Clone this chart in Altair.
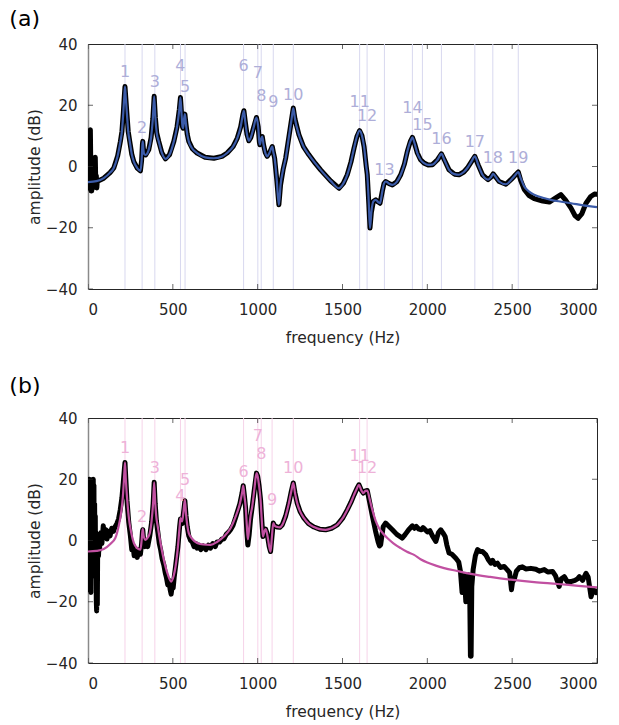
import altair as alt
import pandas as pd

FONT = "DejaVu Sans"
TXT = "#262626"

# ---------------- panel (a) ----------------
fit_a_f = [0, 50, 93, 130, 152, 175, 191, 200, 208, 214, 218, 222, 229, 237, 246, 258, 270, 290, 309,
           316, 321, 323, 326, 332, 340, 358, 372, 382, 390, 397, 405, 417, 435, 457, 480, 506, 525,
           538, 545, 551, 557, 561, 566, 571, 577, 585, 594, 615, 643, 690, 742, 790, 820, 855, 880,
           900, 913, 919, 926, 937, 948, 960, 975, 993, 1003, 1010, 1013, 1020, 1027, 1035, 1045, 1056,
           1070, 1086, 1093, 1100, 1112, 1125, 1135, 1150, 1165, 1185, 1200, 1210, 1220, 1243, 1270,
           1302, 1340, 1371, 1430, 1479, 1505, 1528, 1550, 1568, 1585, 1601, 1615, 1627, 1640, 1646,
           1655, 1662, 1670, 1682, 1696, 1710, 1721, 1735, 1745, 1755, 1775, 1794, 1820, 1843, 1865,
           1882, 1900, 1912, 1925, 1941, 1960, 1981, 2005, 2030, 2060, 2083, 2100, 2128, 2160, 2187,
           2215, 2236, 2260, 2280, 2300, 2325, 2358, 2375, 2388, 2405, 2423, 2463, 2502, 2520, 2536,
           2550, 2571, 2600, 2630, 2680, 2728, 2790, 2847, 2920, 3000]
fit_a_db = [-5.1, -4.8, -3.8, -2.0, -0.5, 3.5, 8.2, 11.5, 17.5, 23.0, 26.1, 23.0, 17.5, 11.5, 8.2, 4.0, 1.6, -0.5, -1.4,
            2.0, 7.5, 8.2, 6.0, 4.0, 3.8, 5.5, 9.5, 15.5, 22.9, 16.0, 11.0, 8.2, 4.5, 2.5, 3.8, 8.2, 13.0,
            18.5, 22.5, 17.5, 13.0, 12.5, 15.5, 17.1, 14.0, 10.5, 8.2, 5.8, 4.4, 3.0, 2.7, 3.3, 4.4, 6.5, 9.3,
            13.0, 17.0, 18.2, 15.0, 10.5, 8.4, 9.5, 12.5, 16.0, 13.0, 8.0, 7.1, 9.0, 9.8, 7.0, 4.5, 3.3,
            4.5, 6.5, 4.5, 2.7, -4.0, -12.5, -6.0, -1.0, 2.7, 10.0, 15.5, 19.1, 15.5, 10.4, 6.5,
            3.8, 1.0, -1.1, -4.7, -7.1, -5.5, -2.7, 1.5, 6.0, 9.8, 11.7, 10.0, 6.5, 0.0, -2.7,
            -12.0, -20.1, -15.0, -11.4, -10.9, -11.6, -12.0, -8.0, -5.5, -4.9, -5.6, -6.0, -5.0, -2.7, 0.8,
            4.9, 8.2, 9.5, 7.5, 4.4, 2.2, 1.1, 0.5, 0.6, 2.2, 4.1, 2.2, -1.1, -2.5, -2.7,
            -1.8, -0.5, 1.6, 3.3, 0.5, -2.7, -4.3, -3.5, -2.4, -3.6, -4.9, -5.8, -3.8, -2.7, -1.8,
            -3.8, -6.5, -8.2, -9.2, -10.2, -10.9, -11.5, -12.0, -12.7, -13.3]

meas_a_head_f = [0, 2, 4, 6, 8, 10, 12, 14, 16, 18, 20, 22, 25, 28, 31, 34, 37, 40, 43, 46, 49, 52, 55, 60]
meas_a_head_db = [-6.5, 6, -7, 5, -6, 11.5, -4, 12, 2, -8, 1, -8, -3, -7, -2, -6, 2.5, -5, 3, -6, -3, -7, -4.5, -4.7]
meas_a_tail_f = [2550, 2571, 2600, 2630, 2680, 2719, 2750, 2787, 2815, 2847, 2870, 2889, 2910, 2935, 2963, 2985, 3000]
meas_a_tail_db = [-4.5, -7.5, -9.5, -10.5, -11.3, -11.6, -10.5, -9.2, -11.0, -13.6, -16.0, -16.9, -15.5, -12.0, -9.8, -9.0, -9.1]

modes_a_f = [218, 319, 394, 545, 572, 917, 1001, 1021, 1092, 1210, 1601, 1645, 1747, 1912, 1971, 2083, 2280, 2386, 2536]
modes_a_label_db = [30.9, 12.5, 27.5, 32.7, 26.1, 32.7, 30.5, 23.1, 21.2, 23.4, 21.2, 16.6, -1.1, 19.1, 13.6, 9.0, 8.0, 2.7, 2.7]

# ---------------- panel (b) ----------------
fit_b_f = [0, 50, 93, 130, 161, 180, 195, 205, 212, 218, 223, 230, 240, 255, 270, 290, 309, 316, 321, 323,
           328, 339, 352, 364, 375, 384, 390, 396, 403, 411, 428, 447, 470, 490, 505, 516, 530, 540, 545,
           550, 555, 563, 571, 578, 585, 594, 615, 643, 680, 722, 760, 801, 840, 870, 895, 908, 915, 922,
           929, 936, 942, 950, 958, 968, 980, 993, 1000, 1008, 1017, 1025, 1031, 1040, 1047, 1054, 1060,
           1068, 1076, 1083, 1092, 1100, 1115, 1130, 1145, 1165, 1184, 1198, 1210, 1220, 1233, 1250, 1273,
           1300, 1332, 1365, 1401, 1435, 1469, 1500, 1528, 1550, 1568, 1585, 1597, 1610, 1623, 1635, 1646,
           1660, 1676, 1695, 1715, 1740, 1764, 1800, 1843, 1880, 1922, 1960, 2000, 2050, 2099, 2180, 2256,
           2370, 2492, 2630, 2768, 2890, 3000]
fit_b_db = [-3.6, -3.4, -2.8, -1.2, 0.8, 4.5, 9.0, 14.0, 20.0, 25.5, 20.0, 14.0, 7.8, 2.5, -0.8, -2.5, -3.0, 0.0, 3.2, 3.7,
            1.5, 0.2, 1.0, 2.4, 6.5, 12.5, 19.0, 12.5, 7.5, 4.6, -1.0, -6.3, -11.0, -13.4, -11.5, -8.5, -2.0, 4.5, 7.3,
            6.5, 6.2, 9.5, 13.3, 8.5, 5.0, 2.4, 0.5, -0.8, -1.3, -1.4, -0.5, 1.3, 4.0, 7.8, 12.0, 15.5, 17.9, 14.5,
            11.1, 5.0, 0.4, 4.0, 8.0, 11.1, 16.5, 22.0, 21.0, 18.0, 13.3, 6.0, 1.3, 3.0, 3.7, 2.5, 0.8,
            -2.0, -3.6, 0.5, 5.7, 4.8, 4.4, 4.3, 5.1, 8.0, 12.2, 16.0, 18.8, 15.5, 12.2, 9.5, 7.3,
            5.5, 4.4, 3.7, 3.5, 4.0, 5.1, 7.2, 10.0, 12.5, 14.9, 17.0, 18.2, 16.5, 15.5, 16.2, 16.3,
            13.5, 10.0, 6.5, 4.1, 2.2, 0.8, -0.9, -2.5, -3.7, -4.7, -6.1, -7.2, -8.2, -9.0, -10.0, -10.9,
            -11.9, -12.8, -13.6, -14.2, -14.8, -15.3]

meas_b_head_f = [0, 2, 3, 5, 7, 9, 11, 13, 15, 17, 19, 21, 23, 25, 27, 29, 31, 33, 35, 37, 39, 41, 43, 45,
                 47, 49, 51, 53, 55, 57, 59, 62, 65, 68, 72, 75, 82, 90, 97, 105, 112, 120, 130, 140, 150,
                 160, 170, 180, 190, 200, 208, 214, 218, 223, 230, 240, 250, 258, 265, 272, 280, 290, 300,
                 309, 316, 321, 323, 328, 335, 345, 352, 364, 375, 384, 390, 396, 403, 411, 420, 428, 437,
                 447, 455, 462, 470, 478, 484, 490, 496, 502, 508, 516, 530, 540, 545, 550, 555, 563, 571,
                 578, 585, 594, 605, 615, 625, 635, 643, 655, 665, 680, 695, 710, 722, 735, 750, 760, 775,
                 790, 801, 815, 830, 840, 855, 870, 895, 908, 915, 922, 929, 936, 942, 950, 958]
meas_b_head_db = [-5, -16, 8, 19, -3, 20, -6, 17, 2, -17, 10, -1, 14, -5, 19, -2, 20, 3, 18, -8, 12, -4, 8, -12,
                  -2, -20, -23, -10, -21, -3, 2, -5, 0, -3, 1, 2.5, -1, 4.8, 1.5, 3.5, 0.5, 3, 1.5, 4, 3,
                  4.5, 5.5, 7, 10, 14, 19, 23, 25.5, 20, 13, 6, 1.5, -3, -1.5, -5, -3.5, -5.5, -3,
                  -4.5, -1, 3, 3.5, 0, -2, -0.5, -2, 1.5, 6, 12, 19, 12, 6.5, 3, -1, -3, -6,
                  -8, -10.5, -12, -14.5, -13, -16, -17.5, -15, -15.5, -12, -8.5, -2, 4.5, 7, 6, 5.5, 9, 13,
                  8, 4.5, 1.5, 0, -0.5, -2, -1, -2.5, -1.5, -3, -1.8, -3, -1.5, -2.5, -1, -2, -0.5, -0.5,
                  0.5, 0.5, 2, 2.8, 3.5, 5, 7.5, 12, 15.5, 17.9, 14.5, 10.5, 3, -1.5, 2, 7]
meas_b_tail_f = [1660, 1676, 1695, 1710, 1718, 1725, 1732, 1740, 1754, 1770, 1794, 1820, 1853, 1870, 1890, 1912,
                 1925, 1935, 1951, 1965, 1975, 2001, 2015, 2030, 2050, 2065, 2079, 2092, 2105, 2115, 2128, 2145,
                 2168, 2185, 2195, 2205, 2212, 2218, 2227, 2235, 2244, 2250, 2254, 2258, 2262, 2270, 2283, 2296,
                 2314, 2325, 2345, 2360, 2374, 2385, 2398, 2413, 2430, 2453, 2470, 2485, 2496, 2502, 2512, 2525,
                 2542, 2560, 2580, 2610, 2640, 2660, 2689, 2710, 2738, 2755, 2765, 2777, 2790, 2807, 2825, 2846,
                 2870, 2885, 2896, 2915, 2935, 2948, 2965, 2978, 2994, 3000]
meas_b_tail_db = [12.5, 8, 3, -0.5, -1.8, -1.4, 1.5, 4.5, 5.7, 4.8, 3.5, 2, 0.8, 2, 3.5, 4.8,
                  4, 4.6, 3.7, 3.5, 4.2, 2.8, 3.2, 1.5, -0.3, 2.5, 3.5, 2.5, 1.3, -1.5, -4.1, -4.5,
                  -5.8, -7, -10, -17, -12, -11.5, -20, -12, -11.2, -18, -37.8, -37.8, -15, -9.5, -5, -3,
                  -3.6, -3.6, -4.7, -6.3, -7.4, -6.5, -7.8, -7.4, -8.8, -8.5, -9.5, -10.5, -16.1, -13.5, -12.8, -10,
                  -8.9, -8.6, -9.3, -9.1, -9.4, -10, -9.5, -10.3, -10.1, -11.5, -13, -15, -12.5, -11.8, -13.5, -13.4,
                  -13, -12.5, -11.8, -13, -10.7, -12, -18.4, -16, -17, -16.5]

modes_b_f = [218, 319, 394, 545, 572, 917, 1001, 1021, 1085, 1210, 1601, 1645]
modes_b_label_db = [30.2, 7.8, 23.7, 14.6, 19.8, 22.5, 34.0, 28.3, 13.3, 23.7, 27.7, 23.7]

X_TICKS = [0, 500, 1000, 1500, 2000, 2500, 3000]
Y_TICKS = [-40, -20, 0, 20, 40]


def df(f, d):
    return pd.DataFrame({"f": f, "db": d})


fit_a = df(fit_a_f, fit_a_db)
meas_a = pd.concat([
    df(meas_a_head_f, meas_a_head_db),
    fit_a[(fit_a.f > 60) & (fit_a.f <= 2536)],
    df(meas_a_tail_f, meas_a_tail_db),
], ignore_index=True)

fit_b = df(fit_b_f, fit_b_db)
meas_b = pd.concat([
    df(meas_b_head_f, meas_b_head_db),
    fit_b[(fit_b.f > 960) & (fit_b.f <= 1646)],
    df(meas_b_tail_f, meas_b_tail_db),
], ignore_index=True)

modes_a = pd.DataFrame({"f": modes_a_f, "db": modes_a_label_db,
                        "n": [str(i + 1) for i in range(len(modes_a_f))]})
modes_b = pd.DataFrame({"f": modes_b_f, "db": modes_b_label_db,
                        "n": [str(i + 1) for i in range(len(modes_b_f))]})

xtick_df = pd.DataFrame([{"f": v, "db": e} for v in X_TICKS for e in (-40, 40)])
ytick_df = pd.DataFrame([{"f": e, "db": v} for v in Y_TICKS for e in (0, 3000)])

xs = alt.Scale(domain=[0, 3000], nice=False, zero=False)
ys = alt.Scale(domain=[-40, 40], nice=False, zero=False)

X_AXIS = alt.Axis(values=X_TICKS, format="d", tickSize=0, labelPadding=13,
                  title="frequency (Hz)", titlePadding=13, grid=False, domain=False,
                  labelFontSize=15, titleFontSize=15.5, titleFontWeight="normal",
                  labelColor=TXT, titleColor=TXT, labelFont=FONT, titleFont=FONT)
Y_AXIS = alt.Axis(values=Y_TICKS, format="d", tickSize=0, labelPadding=11,
                  title="amplitude (dB)", titlePadding=3, grid=False,
                  domainColor="#8a8a8a", domainWidth=1.5,
                  labelFontSize=15, titleFontSize=15.5, titleFontWeight="normal",
                  labelColor=TXT, titleColor=TXT, labelFont=FONT, titleFont=FONT)


def panel(meas, fit, modes, fit_color, rule_color, label_color, title, title_offset):
    X = alt.X("f:Q", scale=xs, axis=X_AXIS)
    Y = alt.Y("db:Q", scale=ys, axis=Y_AXIS)
    rules = alt.Chart(modes).mark_rule(color=rule_color, strokeWidth=1).encode(x=X)
    black = alt.Chart(meas).mark_line(color="black", strokeWidth=5, clip=True,
                                      strokeJoin="round", strokeCap="round").encode(x=X, y=Y, order="f:Q")
    fitl = alt.Chart(fit).mark_line(color=fit_color, strokeWidth=2.2, interpolate="monotone",
                                    clip=True).encode(x=X, y=Y)
    labels = alt.Chart(modes).mark_text(color=label_color, fontSize=16, font=FONT).encode(
        x=X, y=Y, text="n:N")
    xt = alt.Chart(xtick_df).mark_tick(orient="vertical", size=10, thickness=1, color=TXT,
                                       clip=True).encode(x=X, y=Y)
    yt = alt.Chart(ytick_df).mark_tick(orient="horizontal", size=10, thickness=1, color=TXT,
                                       clip=True).encode(x=X, y=Y)
    return alt.layer(rules, black, fitl, labels, xt, yt).properties(
        width=509, height=245,
        title=alt.TitleParams(title, anchor="start", dx=-18, offset=title_offset, fontSize=22, font=FONT,
                              fontWeight="normal", color="black"))


pa = panel(meas_a, fit_a, modes_a, "#3b5ba8", "#d8d8ef", "#aeaed8", "(a)", 6)
pb = panel(meas_b, fit_b, modes_b, "#c150a1", "#f6d3e9", "#eeb2d8", "(b)", 13)

chart = alt.vconcat(pa, pb, spacing=28).properties(
    padding={"left": 8, "top": 7, "right": 0, "bottom": 2}
).configure(background="white").configure_view(stroke=TXT, strokeWidth=1)

chart.save("out.html", embed_options={"renderer": "svg", "actions": False})
